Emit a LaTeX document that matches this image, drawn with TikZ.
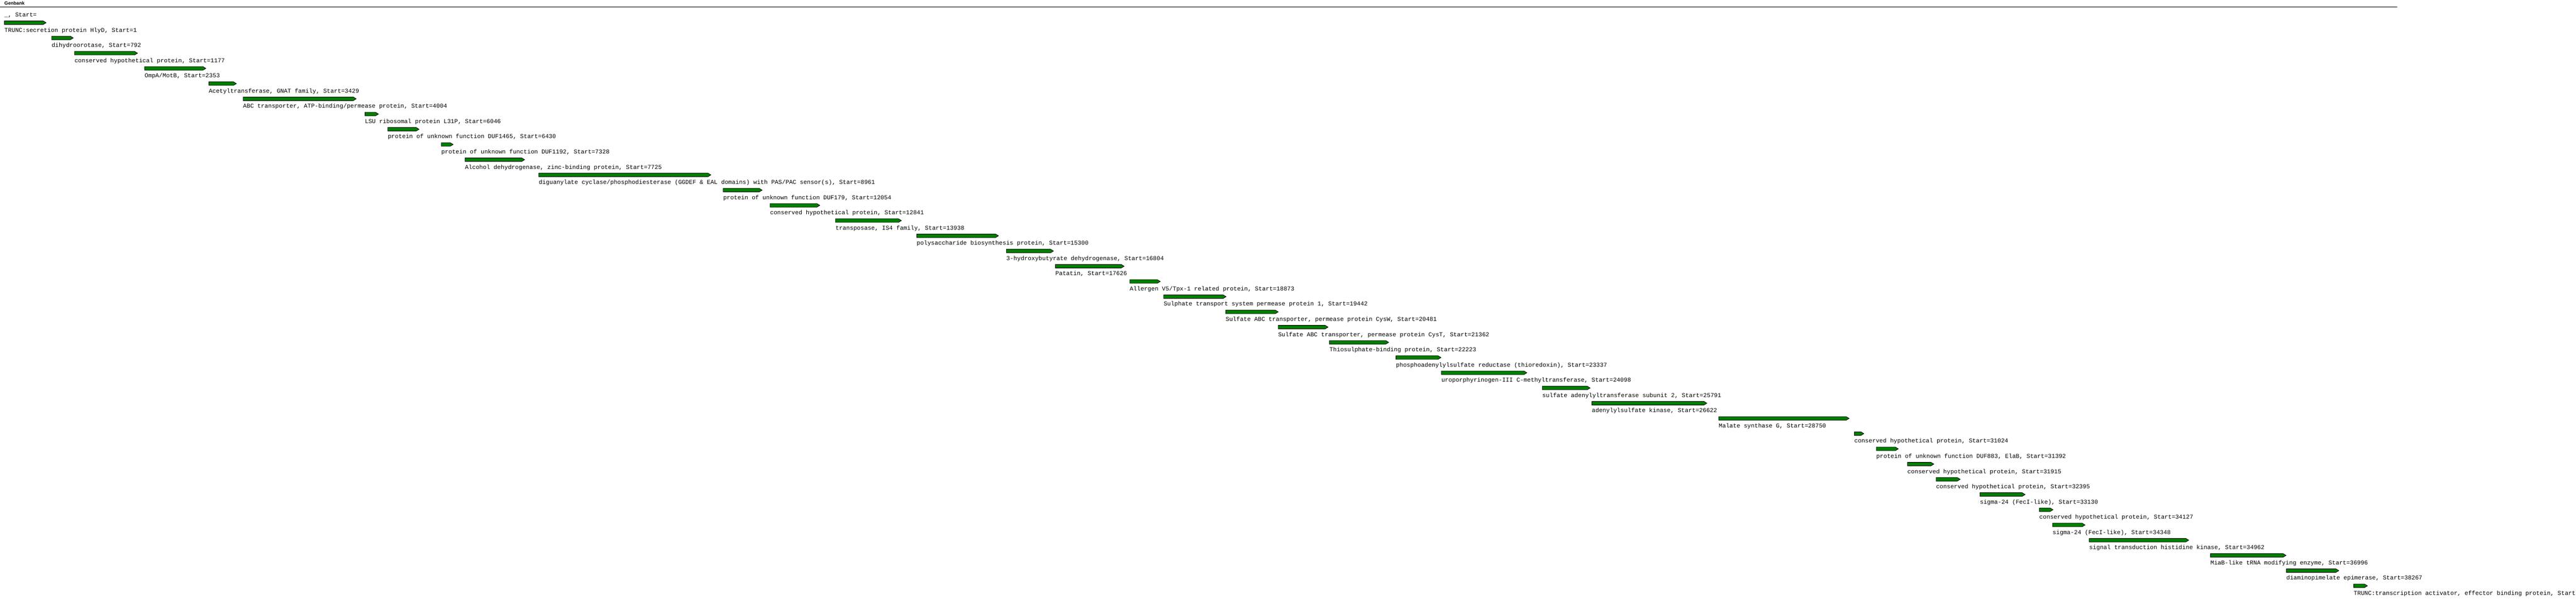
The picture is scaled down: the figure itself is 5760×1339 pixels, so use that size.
\documentclass[tikz,border=0pt]{standalone}
\usepackage{fontspec}
\newfontfamily\genefont{Liberation Mono}
\newfontfamily\headfont{Liberation Sans}
\definecolor{genegreen}{RGB}{0,128,0}
\tikzset{
  genearrow/.style={fill=genegreen, draw=black, line width=1pt, line join=miter},
  genelabel/.style={anchor=base west, inner sep=0pt, outer sep=0pt, font=\genefont\fontsize{13.33pt}{16pt}\selectfont, text=black},
  headlabel/.style={anchor=base west, inner sep=0pt, outer sep=0pt, font=\headfont\bfseries\fontsize{10.5pt}{12pt}\selectfont, text=black},
  ruleline/.style={draw=black, line width=1pt},
}
\begin{document}
\begin{tikzpicture}[x=1pt,y=-1pt]
\useasboundingbox (0,0) rectangle (5760,1339);
\clip (0,0) rectangle (5760,1339);
\node[headlabel] (head) at (10,10.8) {Genbank};
\coordinate (ruleL) at (0,16);
\coordinate (ruleR) at (5360,16);
\draw[ruleline] (ruleL) -- (ruleR);
\node[genelabel] (l1) at (10,37.5) {\_, Start=};
\foreach \i/\xs/\xe/\txt in {
 2/10/103.6/{TRUNC:secretion protein HlyD, Start=1},
 3/115.5/164.3/{dihydroorotase, Start=792},
 4/166.8/308/{conserved hypothetical protein, Start=1177},
 5/323.6/460.7/{OmpA/MotB, Start=2353},
 6/467/529/{Acetyltransferase, GNAT family, Start=3429},
 7/543.7/797/{ABC transporter, ATP-binding/permease protein, Start=4004},
 8/816/846.6/{LSU ribosomal protein L31P, Start=6046},
 9/867.2/937.5/{protein of unknown function DUF1465, Start=6430},
 10/986.9/1013.6/{protein of unknown function DUF1192, Start=7328},
 11/1039.9/1173.5/{Alcohol dehydrogenase, zinc-binding protein, Start=7725},
 12/1204.7/1590/{diguanylate cyclase/phosphodiesterase (GGDEF \& EAL domains) with PAS/PAC sensor(s), Start=8961},
 13/1617.1/1704.6/{protein of unknown function DUF179, Start=12054},
 14/1722/1833.5/{conserved hypothetical protein, Start=12841},
 15/1868.3/2016/{transposase, IS4 family, Start=13938},
 16/2049.9/2233/{polysaccharide biosynthesis protein, Start=15300},
 17/2250.4/2356/{3-hydroxybutyrate dehydrogenase, Start=16804},
 18/2360/2514/{Patatin, Start=17626},
 19/2526.3/2594.7/{Allergen V5/Tpx-1 related protein, Start=18873},
 20/2602.1/2742/{Sulphate transport system permease protein 1, Start=19442},
 21/2740.7/2858.5/{Sulfate ABC transporter, permease protein CysW, Start=20481},
 22/2858.1/2970/{Sulfate ABC transporter, permease protein CysT, Start=21362},
 23/2972.9/3105.4/{Thiosulphate-binding protein, Start=22223},
 24/3121.5/3222.5/{phosphoadenylylsulfate reductase (thioredoxin), Start=23337},
 25/3223/3414.5/{uroporphyrinogen-III C-methyltransferase, Start=24098},
 26/3448.7/3556/{sulfate adenylyltransferase subunit 2, Start=25791},
 27/3559.5/3817/{adenylylsulfate kinase, Start=26622},
 28/3843.2/4135/{Malate synthase G, Start=28750},
 29/4146.4/4168/{conserved hypothetical protein, Start=31024},
 30/4195.5/4245/{protein of unknown function DUF883, ElaB, Start=31392},
 31/4265.2/4324.5/{conserved hypothetical protein, Start=31915},
 32/4329.2/4383.4/{conserved hypothetical protein, Start=32395},
 33/4427.2/4528.6/{sigma-24 (FecI-like), Start=33130},
 34/4560.1/4591/{conserved hypothetical protein, Start=34127},
 35/4589.7/4662.6/{sigma-24 (FecI-like), Start=34348},
 36/4671.5/4894.4/{signal transduction histidine kinase, Start=34962},
 37/4942.7/5112/{MiaB-like tRNA modifying enzyme, Start=36996},
 38/5112.3/5230/{diaminopimelate epimerase, Start=38267},
 39/5263/5294/{TRUNC:transcription activator, effector binding protein, Start}
}{
  \pgfmathsetmacro\ly{33.3+(\i-1)*34.04}
  \draw[genearrow] (\xs,\ly-20.5) -- (\xe-7,\ly-20.5) -- (\xe-0.5,\ly-16.5) -- (\xe-7,\ly-12.5) -- (\xs,\ly-12.5) -- cycle;
  \node[genelabel] (l\i) at (\xs,\ly+4.2) {\txt};
}
\end{tikzpicture}
\end{document}
